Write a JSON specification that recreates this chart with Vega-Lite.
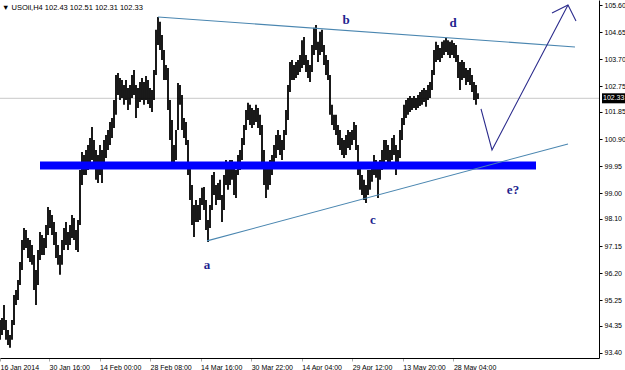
{
"$schema":"https://vega.github.io/schema/vega-lite/v6.json",
"width":599,"height":358,"autosize":{"type":"none"},"padding":{"left":0,"top":0,"right":26,"bottom":12},"background":"white",
"title":{"text":"▼ USOil,H4  102.43 102.51 102.31 102.33","anchor":"start","frame":"group","offset":-11,"dx":2,"fontSize":7.5,"font":"Liberation Sans","fontWeight":"normal","color":"black"},
"config":{"view":{"stroke":null},"axis":{"grid":false,"labelFont":"Liberation Sans","labelFontSize":7,"labelColor":"black","domainColor":"black","tickColor":"black","tickSize":3}},
"datasets":{
"price":[
{"i":0,"p2":94.56,"p":93.86},{"i":1,"p2":94.63,"p":94.03},{"i":2,"p2":95.08,"p":94.21},{"i":3,"p2":94.56,"p":93.86},{"i":4,"p2":94.21,"p":93.68},{"i":5,"p2":94.03,"p":93.58},{"i":6,"p2":94.56,"p":93.86},{"i":7,"p2":95.43,"p":94.38},{"i":8,"p2":95.61,"p":95.08},{"i":9,"p2":95.96,"p":95.26},
{"i":10,"p2":96.59,"p":95.78},{"i":11,"p2":97.36,"p":96.31},{"i":12,"p2":97.78,"p":97.01},{"i":13,"p2":97.71,"p":97.08},{"i":14,"p2":97.43,"p":96.73},{"i":15,"p2":97.36,"p":96.59},{"i":16,"p2":97.19,"p":96.49},{"i":17,"p2":96.84,"p":95.61},{"i":18,"p2":96.31,"p":95.08},{"i":19,"p2":97.01,"p":95.78},
{"i":20,"p2":97.64,"p":96.66},{"i":21,"p2":97.54,"p":96.84},{"i":22,"p2":97.43,"p":96.84},{"i":23,"p2":97.89,"p":97.08},{"i":24,"p2":98.52,"p":97.54},{"i":25,"p2":98.41,"p":97.78},{"i":26,"p2":98.24,"p":97.54},{"i":27,"p2":97.99,"p":97.19},{"i":28,"p2":97.64,"p":96.73},{"i":29,"p2":97.19,"p":96.49},
{"i":30,"p2":96.84,"p":96.14},{"i":31,"p2":97.36,"p":96.49},{"i":32,"p2":97.78,"p":97.01},{"i":33,"p2":97.99,"p":97.19},{"i":34,"p2":97.64,"p":97.01},{"i":35,"p2":97.89,"p":97.19},{"i":36,"p2":98.24,"p":97.43},{"i":37,"p2":98.13,"p":97.36},{"i":38,"p2":97.71,"p":97.01},{"i":39,"p2":98.06,"p":96.94},
{"i":40,"p2":99.82,"p":97.89},{"i":41,"p2":100.45,"p":99.29},{"i":42,"p2":100.34,"p":99.64},{"i":43,"p2":100.52,"p":99.64},{"i":44,"p2":100.69,"p":99.82},{"i":45,"p2":100.94,"p":99.99},{"i":46,"p2":101.32,"p":100.17},{"i":47,"p2":100.87,"p":99.89},{"i":48,"p2":100.52,"p":99.47},{"i":49,"p2":100.34,"p":99.36},
{"i":50,"p2":100.69,"p":99.64},{"i":51,"p2":100.52,"p":99.36},{"i":52,"p2":100.87,"p":99.99},{"i":53,"p2":101.04,"p":100.24},{"i":54,"p2":101.22,"p":100.52},{"i":55,"p2":101.50,"p":100.69},{"i":56,"p2":101.64,"p":100.94},{"i":57,"p2":102.27,"p":101.29},{"i":58,"p2":103.15,"p":101.75},{"i":59,"p2":103.22,"p":102.45},
{"i":60,"p2":103.04,"p":102.27},{"i":61,"p2":102.97,"p":102.34},{"i":62,"p2":102.80,"p":102.10},{"i":63,"p2":102.97,"p":102.27},{"i":64,"p2":102.69,"p":101.92},{"i":65,"p2":102.80,"p":102.10},{"i":66,"p2":103.15,"p":102.34},{"i":67,"p2":103.32,"p":102.45},{"i":68,"p2":102.80,"p":101.64},{"i":69,"p2":102.69,"p":101.99},
{"i":70,"p2":102.90,"p":102.20},{"i":71,"p2":103.04,"p":102.27},{"i":72,"p2":102.90,"p":102.10},{"i":73,"p2":103.11,"p":102.27},{"i":74,"p2":102.97,"p":102.13},{"i":75,"p2":102.69,"p":101.99},{"i":76,"p2":102.62,"p":101.85},{"i":77,"p2":103.32,"p":102.27},{"i":78,"p2":104.73,"p":103.15},{"i":79,"p2":105.18,"p":104.20},
{"i":80,"p2":105.01,"p":104.02},{"i":81,"p2":104.55,"p":103.67},{"i":82,"p2":104.02,"p":102.97},{"i":83,"p2":103.50,"p":102.97},{"i":84,"p2":103.39,"p":101.92},{"i":85,"p2":102.27,"p":100.87},{"i":86,"p2":101.57,"p":99.99},{"i":87,"p2":100.69,"p":99.99},{"i":88,"p2":101.22,"p":100.17},{"i":89,"p2":102.87,"p":101.22},
{"i":90,"p2":102.80,"p":102.10},{"i":91,"p2":102.45,"p":101.22},{"i":92,"p2":101.64,"p":100.94},{"i":93,"p2":101.50,"p":100.69},{"i":94,"p2":100.87,"p":99.64},{"i":95,"p2":99.99,"p":98.76},{"i":96,"p2":99.29,"p":97.89},{"i":97,"p2":98.59,"p":97.47},{"i":98,"p2":98.76,"p":97.99},{"i":99,"p2":98.59,"p":97.99},
{"i":100,"p2":98.83,"p":98.06},{"i":101,"p2":99.19,"p":98.59},{"i":102,"p2":99.22,"p":98.41},{"i":103,"p2":98.76,"p":97.71},{"i":104,"p2":98.06,"p":97.29},{"i":105,"p2":98.59,"p":97.78},{"i":106,"p2":99.64,"p":98.41},{"i":107,"p2":99.75,"p":98.94},{"i":108,"p2":99.29,"p":98.59},{"i":109,"p2":99.36,"p":98.76},
{"i":110,"p2":99.47,"p":98.76},{"i":111,"p2":98.94,"p":97.99},{"i":112,"p2":99.64,"p":98.41},{"i":113,"p2":100.17,"p":99.29},{"i":114,"p2":99.99,"p":99.12},{"i":115,"p2":100.17,"p":99.29},{"i":116,"p2":100.17,"p":99.47},{"i":117,"p2":99.99,"p":98.94},{"i":118,"p2":99.82,"p":98.83},{"i":119,"p2":100.34,"p":99.64},
{"i":120,"p2":100.52,"p":99.82},{"i":121,"p2":100.94,"p":100.17},{"i":122,"p2":101.39,"p":100.69},{"i":123,"p2":101.92,"p":101.22},{"i":124,"p2":102.17,"p":101.57},{"i":125,"p2":102.10,"p":101.39},{"i":126,"p2":101.99,"p":101.29},{"i":127,"p2":101.92,"p":101.39},{"i":128,"p2":102.10,"p":101.50},{"i":129,"p2":101.99,"p":101.29},
{"i":130,"p2":101.75,"p":101.04},{"i":131,"p2":101.39,"p":99.99},{"i":132,"p2":100.52,"p":99.29},{"i":133,"p2":99.99,"p":98.83},{"i":134,"p2":99.99,"p":99.12},{"i":135,"p2":100.17,"p":99.29},{"i":136,"p2":100.34,"p":99.64},{"i":137,"p2":100.69,"p":99.99},{"i":138,"p2":101.04,"p":100.24},{"i":139,"p2":101.22,"p":100.52},
{"i":140,"p2":101.04,"p":100.34},{"i":141,"p2":100.87,"p":100.17},{"i":142,"p2":101.22,"p":100.52},{"i":143,"p2":101.92,"p":101.04},{"i":144,"p2":102.80,"p":101.57},{"i":145,"p2":103.60,"p":102.55},{"i":146,"p2":103.67,"p":102.97},{"i":147,"p2":103.50,"p":102.97},{"i":148,"p2":103.60,"p":103.04},{"i":149,"p2":103.67,"p":103.15},
{"i":150,"p2":103.85,"p":103.25},{"i":151,"p2":104.37,"p":103.39},{"i":152,"p2":104.48,"p":103.50},{"i":153,"p2":103.85,"p":103.25},{"i":154,"p2":103.67,"p":103.04},{"i":155,"p2":103.50,"p":102.90},{"i":156,"p2":104.20,"p":103.25},{"i":157,"p2":104.80,"p":103.85},{"i":158,"p2":104.90,"p":104.02},{"i":159,"p2":104.31,"p":103.60},
{"i":160,"p2":104.66,"p":103.85},{"i":161,"p2":104.73,"p":103.95},{"i":162,"p2":104.20,"p":103.50},{"i":163,"p2":103.85,"p":103.15},{"i":164,"p2":103.67,"p":102.97},{"i":165,"p2":103.15,"p":101.75},{"i":166,"p2":102.10,"p":101.39},{"i":167,"p2":101.75,"p":101.22},{"i":168,"p2":101.75,"p":101.04},{"i":169,"p2":101.39,"p":100.69},
{"i":170,"p2":101.22,"p":100.52},{"i":171,"p2":100.94,"p":100.34},{"i":172,"p2":100.87,"p":100.24},{"i":173,"p2":101.04,"p":100.34},{"i":174,"p2":101.22,"p":100.59},{"i":175,"p2":101.15,"p":100.52},{"i":176,"p2":101.22,"p":100.69},{"i":177,"p2":101.50,"p":100.87},{"i":178,"p2":101.39,"p":100.52},{"i":179,"p2":100.69,"p":99.64},
{"i":180,"p2":99.99,"p":99.12},{"i":181,"p2":99.64,"p":98.94},{"i":182,"p2":99.47,"p":98.76},{"i":183,"p2":99.29,"p":98.66},{"i":184,"p2":99.82,"p":98.94},{"i":185,"p2":99.82,"p":99.12},{"i":186,"p2":100.10,"p":99.40},{"i":187,"p2":100.34,"p":99.64},{"i":188,"p2":100.17,"p":99.54},{"i":189,"p2":99.99,"p":98.83},
{"i":190,"p2":100.17,"p":99.47},{"i":191,"p2":100.52,"p":99.82},{"i":192,"p2":100.87,"p":100.10},{"i":193,"p2":100.87,"p":100.17},{"i":194,"p2":100.69,"p":99.99},{"i":195,"p2":100.52,"p":99.89},{"i":196,"p2":100.94,"p":100.17},{"i":197,"p2":101.04,"p":100.34},{"i":198,"p2":100.69,"p":99.64},{"i":199,"p2":100.52,"p":99.99},
{"i":200,"p2":101.22,"p":100.24},{"i":201,"p2":101.64,"p":100.87},{"i":202,"p2":102.10,"p":101.39},{"i":203,"p2":102.27,"p":101.64},{"i":204,"p2":102.34,"p":101.75},{"i":205,"p2":102.41,"p":101.85},{"i":206,"p2":102.34,"p":101.92},{"i":207,"p2":102.41,"p":101.99},{"i":208,"p2":102.34,"p":101.92},{"i":209,"p2":102.45,"p":101.99},
{"i":210,"p2":102.55,"p":102.06},{"i":211,"p2":102.62,"p":102.10},{"i":212,"p2":102.69,"p":102.20},{"i":213,"p2":102.62,"p":102.03},{"i":214,"p2":102.80,"p":102.27},{"i":215,"p2":102.90,"p":102.34},{"i":216,"p2":103.32,"p":102.62},{"i":217,"p2":104.02,"p":103.15},{"i":218,"p2":104.31,"p":103.60},{"i":219,"p2":104.20,"p":103.67},
{"i":220,"p2":104.09,"p":103.60},{"i":221,"p2":104.31,"p":103.74},{"i":222,"p2":104.37,"p":103.85},{"i":223,"p2":104.45,"p":103.95},{"i":224,"p2":104.37,"p":103.85},{"i":225,"p2":104.31,"p":103.74},{"i":226,"p2":104.37,"p":103.85},{"i":227,"p2":104.27,"p":103.74},{"i":228,"p2":104.20,"p":103.60},{"i":229,"p2":103.85,"p":103.04},
{"i":230,"p2":103.60,"p":102.62},{"i":231,"p2":103.67,"p":102.97},{"i":232,"p2":103.60,"p":103.04},{"i":233,"p2":103.39,"p":102.80},{"i":234,"p2":103.32,"p":102.90},{"i":235,"p2":103.39,"p":102.80},{"i":236,"p2":103.15,"p":102.55},{"i":237,"p2":102.90,"p":102.27},{"i":238,"p2":102.80,"p":102.10},{"i":239,"p2":102.51,"p":102.31}
],
"trend":[
{"g":"upper","i":79,"p":105.18,"o":1},{"g":"upper","i":287.5,"p":104.13,"o":2},
{"g":"lower","i":103.5,"p":97.33,"o":1},{"g":"lower","i":284,"p":100.73,"o":2},
{"g":"proj","i":240.5,"p":101.96,"o":1},{"g":"proj","i":246,"p":100.52,"o":2},{"g":"proj","i":284,"p":105.60,"o":3},
{"g":"head","i":276,"p":105.32,"o":1},{"g":"head","i":284,"p":105.60,"o":2},{"g":"head","i":288,"p":105.04,"o":3}
],
"zone":[{"i":20,"i2":268,"p":99.97}],
"labels":[
{"i":103.5,"p":96.49,"t":"a"},{"i":173,"p":105.08,"t":"b"},{"i":186.5,"p":98.06,"t":"c"},{"i":226.5,"p":104.97,"t":"d"},{"i":256.5,"p":99.12,"t":"e?"}
],
"bid":[{"i":0,"i2":299.5,"p":102.33}],
"tag":[{"i":299.5,"p":102.33}]
},
"encoding":{
 "x":{"field":"i","type":"quantitative","scale":{"domain":[0,299.5],"nice":false,"zero":false},
   "axis":{"orient":"bottom","title":null,"values":[0,24.5,49.8,75,100.3,125.6,150.9,176.1,201.4,226.7],"labelAlign":"left","labelPadding":2,"tickColor":"#aaaaaa","labelExpr":"['16 Jan 2014','30 Jan 16:00','14 Feb 00:00','28 Feb 08:00','14 Mar 16:00','30 Mar 22:00','14 Apr 04:00','29 Apr 12:00','13 May 20:00','28 May 04:00'][floor((datum.value+5)/25.2)]"}},
 "y":{"field":"p","type":"quantitative","scale":{"domain":[93.224,105.777],"nice":false,"zero":false},
   "axis":{"orient":"right","title":null,"values":[93.40,94.35,95.25,96.20,97.15,98.10,99.00,99.95,100.90,101.85,102.75,103.70,104.65,105.60],"format":".2f","labelPadding":2}}
},
"layer":[
{"data":{"name":"bid"},"mark":{"type":"rule","color":"#c8c8c8","strokeWidth":1},
 "encoding":{"x2":{"field":"i2"}}},
{"data":{"name":"price"},"mark":{"type":"rule","color":"black","strokeWidth":1.8},
 "encoding":{"y2":{"field":"p2"}}},
{"data":{"name":"zone"},"mark":{"type":"rule","color":"#0000ff","strokeWidth":8,"strokeCap":"butt"},
 "encoding":{"x2":{"field":"i2"}}},
{"data":{"name":"trend"},"mark":{"type":"line","strokeWidth":1.1},
 "encoding":{
  "order":{"field":"o"},"detail":{"field":"g"},
  "color":{"field":"g","type":"nominal","scale":{"domain":["upper","lower","proj","head"],"range":["#4a86b0","#4a86b0","#2b2b8c","#2b2b8c"]},"legend":null}}},
{"data":{"name":"labels"},"mark":{"type":"text","font":"Liberation Serif","fontWeight":"bold","fontSize":13,"color":"#1f1f8f","align":"center","baseline":"middle"},
 "encoding":{"text":{"field":"t"}}},
{"data":{"name":"tag"},"mark":{"type":"rect","color":"black","xOffset":3,"x2Offset":27,"yOffset":-5,"y2Offset":5},
 "encoding":{"x2":{"field":"i"},"y2":{"field":"p"}}},
{"data":{"name":"tag"},"mark":{"type":"text","color":"white","align":"left","baseline":"middle","dx":4,"font":"Liberation Sans","fontSize":7},
 "encoding":{"text":{"field":"p","format":".2f"}}}
]
}
